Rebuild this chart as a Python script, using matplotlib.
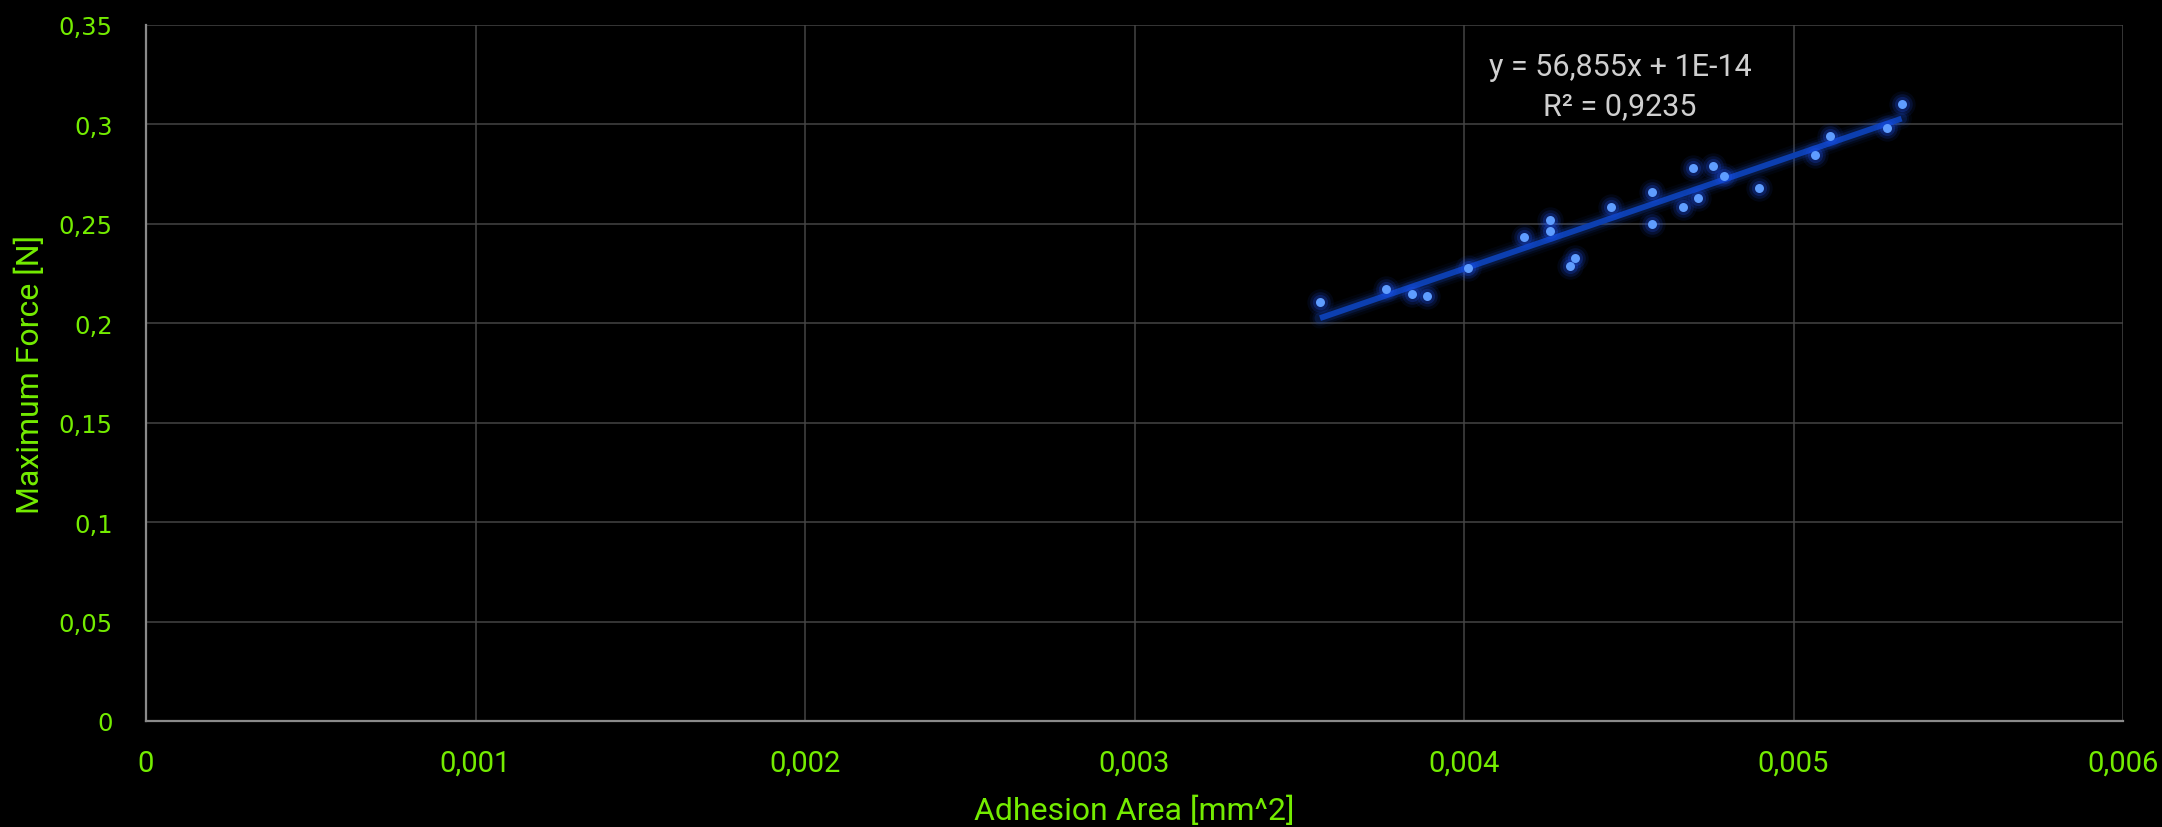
import matplotlib
matplotlib.use("Agg")
import matplotlib.pyplot as plt
from matplotlib.ticker import FuncFormatter, MultipleLocator
from matplotlib import font_manager
import numpy as np

# Measured adhesion area [mm^2] and maximum force [N]
adhesion_area = [0.003563, 0.003764, 0.003842, 0.003888, 0.004013, 0.004183,
                 0.004262, 0.004262, 0.004323, 0.004337, 0.004447, 0.004570,
                 0.004570, 0.004664, 0.004695, 0.004710, 0.004757, 0.004788,
                 0.004895, 0.005066, 0.005112, 0.005284, 0.005328]
max_force = [0.2105, 0.2170, 0.2147, 0.2137, 0.2277, 0.2435,
             0.2518, 0.2463, 0.2288, 0.2327, 0.2583, 0.2658,
             0.2500, 0.2587, 0.2782, 0.2628, 0.2793, 0.2742,
             0.2680, 0.2848, 0.2940, 0.2983, 0.3105]

# Linear trendline parameters
slope = 56.855
intercept = 1e-14
r_squared = 0.9235

x_label = "Adhesion Area [mm^2]"
y_label = "Maximum Force [N]"

GREEN = "#74ec00"
BG = "#000000"

installed = {f.name for f in font_manager.fontManager.ttflist}
narrow = [f for f in ["Liberation Sans Narrow", "Roboto"] if f in installed] + ["DejaVu Sans"]


def comma(v, _pos=None):
    s = f"{v:.4f}".rstrip("0").rstrip(".")
    return s.replace(".", ",")


fig = plt.figure(figsize=(21.62, 8.28), dpi=100, facecolor=BG)
ax = fig.add_axes([146 / 2162, 1 - 722 / 828, (2123 - 146) / 2162, (722 - 26) / 828])
ax.set_facecolor(BG)

ax.set_xlim(0, 0.006)
ax.set_ylim(0, 0.35)
ax.xaxis.set_major_locator(MultipleLocator(0.001))
ax.yaxis.set_major_locator(MultipleLocator(0.05))
ax.xaxis.set_major_formatter(FuncFormatter(comma))
ax.yaxis.set_major_formatter(FuncFormatter(comma))

ax.grid(True, color="#454545", linewidth=1.1)
ax.set_axisbelow(True)
for side in ("top", "right"):
    ax.spines[side].set_visible(False)
for side in ("left", "bottom"):
    ax.spines[side].set_color("#8a8a8a")
    ax.spines[side].set_linewidth(1.6)

ax.tick_params(axis="both", length=0)
ax.tick_params(axis="x", pad=20, labelcolor=GREEN)
ax.tick_params(axis="y", pad=24, labelcolor=GREEN)
for lab in ax.get_xticklabels():
    lab.set_family(narrow)
    lab.set_fontsize(21)
for lab in ax.get_yticklabels():
    lab.set_family("DejaVu Sans")
    lab.set_fontsize(17.5)

ax.set_xlabel(x_label, color=GREEN, fontsize=23, family=narrow)
ax.set_ylabel(y_label, color=GREEN, fontsize=23, family=narrow)
ax.xaxis.set_label_coords(0.5, -0.128)
ax.yaxis.set_label_coords(-0.0587, 0.5)
ax.xaxis.label.set_va("center")
ax.yaxis.label.set_va("center")

# Trendline with soft glow
x_arr = np.array(adhesion_area)
y_arr = np.array(max_force)
xt = np.array([x_arr.min(), x_arr.max()])
yt = slope * xt + intercept
for lw, a in [(15, 0.06), (11, 0.1), (8, 0.18)]:
    ax.plot(xt, yt, color="#1a4fd0", linewidth=lw, alpha=a,
            solid_capstyle="round", zorder=3)
ax.plot(xt, yt, color="#0c3fb0", linewidth=4.2, solid_capstyle="butt", zorder=4)

# Data points with glow
for s, a in [(360, 0.08), (220, 0.14), (120, 0.22)]:
    ax.scatter(x_arr, y_arr, s=s, color="#1f55ff", alpha=a, linewidths=0, zorder=5)
ax.scatter(x_arr, y_arr, s=42, color="#5f9dff", linewidths=0, zorder=6)

eq_text = f"y = {comma(slope)}x + 1E-14\nR\u00b2 = {comma(r_squared)}"
ax.text(0.7456, 0.912, eq_text, transform=ax.transAxes, ha="center", va="center",
        color="#cfcfcf", fontsize=22, family=narrow, linespacing=1.45)

fig.savefig("out.png", dpi=100, facecolor=BG)
